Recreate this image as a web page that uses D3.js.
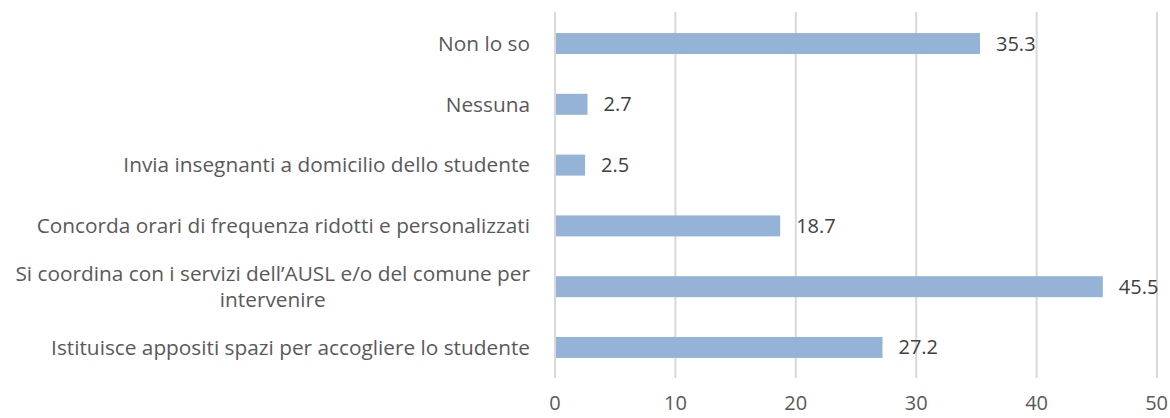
<!DOCTYPE html>
<html>
<head>
<meta charset="utf-8">
<script src="https://cdn.jsdelivr.net/npm/d3@7"></script>
<style>
    body { margin: 0; background: #fff; }
    svg { display: block; }
</style>
</head>
<body>
<div id="chart"></div>
<script>
var categories = [
    "Non lo so",
    "Nessuna",
    "Invia insegnanti a domicilio dello studente",
    "Concorda orari di frequenza ridotti e personalizzati",
    "Si coordina con i servizi dell\u2019AUSL e/o del comune per|intervenire",
    "Istituisce appositi spazi per accogliere lo studente"
];
var values = [35.3, 2.7, 2.5, 18.7, 45.5, 27.2];
var xTicks = [0, 10, 20, 30, 40, 50];

var width = 1170, height = 418;
var margin = { top: 13, right: 13, bottom: 40, left: 555 };
var font = "'Open Sans', sans-serif";

var svg = d3.select("#chart").append("svg")
    .attr("width", width)
    .attr("height", height);

var x = d3.scaleLinear()
    .domain([0, 50])
    .range([margin.left, width - margin.right]);

var y = d3.scaleBand()
    .domain(categories)
    .range([margin.top, height - margin.bottom])
    .paddingInner(0.655)
    .paddingOuter(0.33);

// gridlines
svg.append("g")
    .selectAll("line")
    .data(xTicks)
    .enter().append("line")
    .attr("x1", function(d) { return x(d); })
    .attr("x2", function(d) { return x(d); })
    .attr("y1", margin.top - 1)
    .attr("y2", height - margin.bottom)
    .style("stroke", "#d9d9d9")
    .style("stroke-width", 2);

// tick labels (last one anchored so it stays inside the page)
svg.append("g")
    .selectAll("text")
    .data(xTicks)
    .enter().append("text")
    .attr("x", function(d) { return x(d); })
    .attr("y", 410)
    .attr("text-anchor", function(d, i) { return i === xTicks.length - 1 ? "end" : "middle"; })
    .attr("dx", function(d, i) { return i === xTicks.length - 1 ? 11 : 0; })
    .style("font-family", font)
    .style("font-size", "20px")
    .style("fill", "#595959")
    .text(function(d) { return d; });

// bars
svg.append("g")
    .selectAll("rect")
    .data(values)
    .enter().append("rect")
    .attr("x", x(0) + 1)
    .attr("y", function(d, i) { return y(categories[i]); })
    .attr("width", function(d) { return x(d) - x(0) - 1; })
    .attr("height", y.bandwidth())
    .style("fill", "#95b3d7");

// value labels
svg.append("g")
    .selectAll("text")
    .data(values)
    .enter().append("text")
    .attr("x", function(d) { return x(d) + 16; })
    .attr("y", function(d, i) { return y(categories[i]) + y.bandwidth() / 2; })
    .attr("dy", "0.35em")
    .style("font-family", font)
    .style("font-size", "20px")
    .style("fill", "#404040")
    .text(function(d) { return d.toFixed(1); });

// category labels, wrapped on "|" and centered within the block
var labels = svg.append("g")
    .selectAll("text")
    .data(categories)
    .enter().append("text")
    .attr("text-anchor", "middle")
    .style("font-family", font)
    .style("font-size", "20.8px")
    .style("fill", "#595959");

labels.each(function(d) {
    var lines = d.split("|");
    var el = d3.select(this);
    var cy = y(d) + y.bandwidth() / 2;
    var lh = 26;
    lines.forEach(function(t, j) {
        el.append("tspan")
            .attr("y", cy + (j - (lines.length - 1) / 2) * lh)
            .attr("dy", "0.35em")
            .text(t);
    });
    // block width = widest line, right edge at 530
    var w = 0;
    el.selectAll("tspan").each(function() { w = Math.max(w, this.getComputedTextLength()); });
    el.selectAll("tspan").attr("x", 530 - w / 2);
});
</script>
</body>
</html>
